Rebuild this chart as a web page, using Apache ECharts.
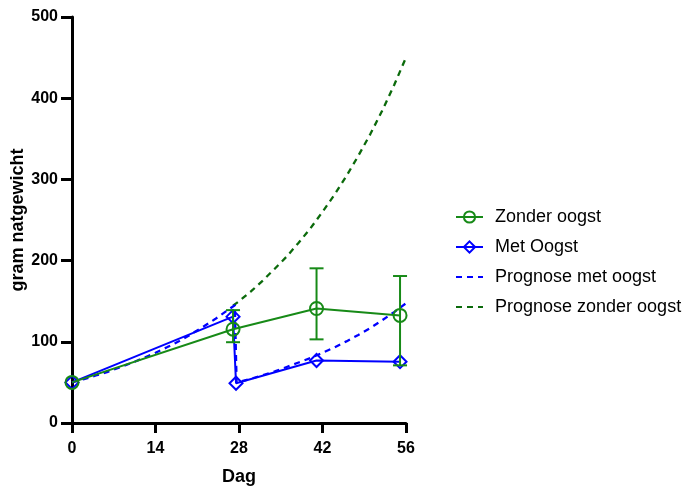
<!DOCTYPE html>
<html>
<head>
<meta charset="utf-8">
<script src="https://cdn.jsdelivr.net/npm/echarts@6/dist/echarts.min.js"></script>
<style>html,body{margin:0;padding:0;background:#fff}#c{width:685px;height:486px}</style>
</head>
<body>
<div id="c"></div>
<script>
// Tick labels
const xTicks = [0, 14, 28, 42, 56];
const yTicks = [0, 100, 200, 300, 400, 500];

// Zonder oogst (mean with error bars)
const zonderDays = [0, 27, 41, 55];
const zonderMean = [50, 115.5, 141, 132.5];
const zonderLow  = [50, 99.5, 103, 71];
const zonderHigh = [50, 139, 190.5, 181];

// Met Oogst
const metDays = [0, 27, 27.5, 41, 55];
const metVals = [50, 131, 49, 77, 75.5];

// Prognose met oogst (dashed curve)
const progMetDays = [0, 2, 4, 6, 8, 10, 12, 14, 16, 18, 20, 22, 24, 26, 27.3, 27.6, 30, 32, 34, 36, 38, 40, 42, 44, 46, 48, 50, 52, 54, 56];
const progMetVals = [50, 54, 58.5, 63, 68.5, 74, 80, 86.5, 93.5, 101, 109.5, 118.5, 128, 138.5, 145, 50, 54.5, 59, 63.5, 69, 74.5, 80, 86.5, 93, 100.5, 108.5, 117, 126.5, 136.5, 147.5];

// Prognose zonder oogst (dashed curve)
const progZonderDays = [27, 28, 30, 32, 34, 36, 38, 40, 42, 44, 46, 48, 50, 52, 54, 56];
const progZonderVals = [144.5, 150, 162, 175.5, 190, 205, 222, 240, 260, 281, 304, 329, 355.5, 384.5, 416, 450];

const GREEN = '#178a17';
const DKGREEN = '#0b6a0b';
const BLUE = '#0000ff';
const FONT = "'Liberation Sans', Arial, sans-serif";

const zip = (a, b) => a.map((v, i) => [v, b[i]]);

const chart = echarts.init(document.getElementById('c'), null, {renderer: 'canvas'});
chart.setOption({
  animation: false,
  backgroundColor: '#fff',
  grid: {left: 72, right: 279, top: 17, bottom: 63, containLabel: false, outerBoundsMode: 'none'},
  legend: {
    orient: 'vertical',
    left: 450,
    top: 202,
    itemWidth: 27,
    itemHeight: 14,
    itemGap: 10,
    data: [
      'Zonder oogst',
      'Met Oogst',
      {name: 'Prognose met oogst', itemStyle: {opacity: 0}},
      {name: 'Prognose zonder oogst', itemStyle: {opacity: 0}}
    ],
    textStyle: {fontFamily: FONT, fontSize: 18, color: '#000', lineHeight: 20, padding: [0, 0, 0, 7]}
  },
  xAxis: {
    type: 'value', min: xTicks[0], max: xTicks[xTicks.length - 1], interval: 14,
    name: 'Dag', nameLocation: 'middle', nameGap: 45,
    nameTextStyle: {fontFamily: FONT, fontSize: 18, fontWeight: 'bold', color: '#000'},
    axisLine: {show: true, onZero: false, lineStyle: {color: '#000', width: 3}},
    axisTick: {show: true, length: 10, lineStyle: {color: '#000', width: 3}},
    axisLabel: {margin: 18, fontFamily: FONT, fontSize: 16, fontWeight: 'bold', color: '#000',
      formatter: v => xTicks.includes(v) ? String(v) : ''},
    splitLine: {show: false}
  },
  yAxis: {
    type: 'value', min: yTicks[0], max: yTicks[yTicks.length - 1], interval: 100,
    name: 'gram natgewicht', nameLocation: 'middle', nameGap: 45, nameRotate: 90,
    nameTextStyle: {fontFamily: FONT, fontSize: 18, fontWeight: 'bold', color: '#000'},
    axisLine: {show: true, onZero: false, lineStyle: {color: '#000', width: 3}},
    axisTick: {show: true, length: 11, lineStyle: {color: '#000', width: 3}},
    axisLabel: {margin: 14, fontFamily: FONT, fontSize: 16, fontWeight: 'bold', color: '#000',
      formatter: v => yTicks.includes(v) ? String(v) : ''},
    splitLine: {show: false}
  },
  series: [
    {
      name: 'Prognose zonder oogst', type: 'line', z: 1,
      data: zip(progZonderDays, progZonderVals),
      symbol: 'none', showSymbol: false, clip: false,
      lineStyle: {color: DKGREEN, width: 2.3, type: [6, 5]},
      itemStyle: {color: DKGREEN}
    },
    {
      name: 'Prognose met oogst', type: 'line', z: 2,
      data: zip(progMetDays, progMetVals),
      symbol: 'none', showSymbol: false, clip: false,
      lineStyle: {color: BLUE, width: 2.3, type: [6, 5]},
      itemStyle: {color: BLUE}
    },
    {
      name: 'Met Oogst', type: 'line', z: 3,
      data: zip(metDays, metVals),
      symbol: 'diamond', symbolSize: 13, clip: false,
      lineStyle: {color: BLUE, width: 2},
      itemStyle: {color: 'rgba(255,255,255,0)', borderColor: BLUE, borderWidth: 2}
    },
    {
      name: 'Zonder oogst', type: 'line', z: 4,
      data: zip(zonderDays, zonderMean),
      symbol: 'circle', symbolSize: 13, clip: false,
      lineStyle: {color: GREEN, width: 2},
      itemStyle: {color: 'rgba(255,255,255,0)', borderColor: GREEN, borderWidth: 2}
    },
    {
      name: 'errors', type: 'custom', z: 4,
      data: zonderDays.map((d, i) => [d, zonderLow[i], zonderHigh[i]]),
      encode: {x: 0, y: [1, 2]},
      renderItem: function (params, api) {
        const x = api.value(0), lo = api.value(1), hi = api.value(2);
        if (hi - lo < 1) return null;
        const a = api.coord([x, lo]), b = api.coord([x, hi]);
        const w = 7;
        const st = {stroke: GREEN, lineWidth: 2};
        return {type: 'group', children: [
          {type: 'line', shape: {x1: a[0], y1: a[1], x2: b[0], y2: b[1]}, style: st},
          {type: 'line', shape: {x1: a[0] - w, y1: a[1], x2: a[0] + w, y2: a[1]}, style: st},
          {type: 'line', shape: {x1: b[0] - w, y1: b[1], x2: b[0] + w, y2: b[1]}, style: st}
        ]};
      }
    }
  ]
});
</script>
</body>
</html>
